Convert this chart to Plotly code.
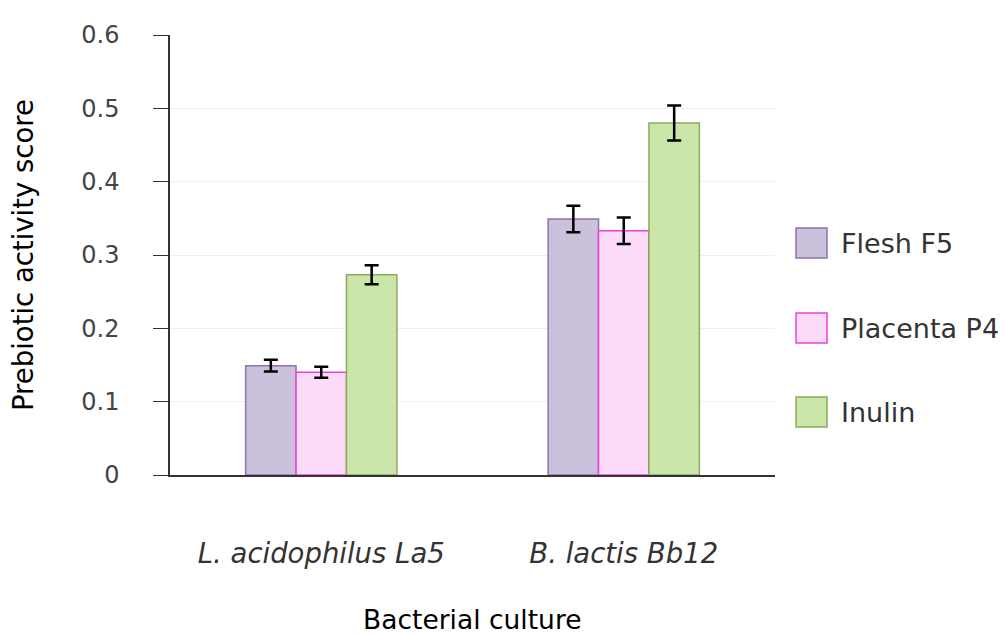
import plotly.graph_objects as go

categories = ["L. acidophilus La5", "B. lactis Bb12"]
series_names = ["Flesh F5", "Placenta P4", "Inulin"]
flesh = [0.149, 0.349]
placenta = [0.140, 0.333]
inulin = [0.273, 0.480]
flesh_err = [0.008, 0.018]
placenta_err = [0.0075, 0.018]
inulin_err = [0.013, 0.024]
y_ticks = [0, 0.1, 0.2, 0.3, 0.4, 0.5, 0.6]

fills = ["#cbc1dc", "#fcdcf8", "#cbe6aa"]
borders = ["#8f72ae", "#f23fdc", "#8bab5b"]
FONT = "DejaVu Sans"

fig = go.Figure()
for name, vals, errs, fc, bc in zip(series_names, [flesh, placenta, inulin],
                                     [flesh_err, placenta_err, inulin_err], fills, borders):
    fig.add_trace(go.Bar(
        x=categories, y=vals, name=name,
        marker=dict(color=fc, line=dict(color=bc, width=1.5)),
        error_y=dict(type="data", array=errs, color="black", thickness=2.5, width=7),
        showlegend=False,
    ))

# custom legend (large squares)
legend_y = [243, 328, 412]
for name, fc, bc, yy in zip(series_names, fills, borders, legend_y):
    fig.add_shape(type="rect", xref="paper", yref="paper",
                  x0=(796 - 170) / 605, x1=(827 - 170) / 605,
                  y0=(475 - (yy + 15)) / 440, y1=(475 - (yy - 15)) / 440,
                  fillcolor=fc, line=dict(color=bc, width=1.5))
    fig.add_annotation(text=name, xref="paper", yref="paper",
                       x=(839 - 170) / 605, y=(475 - yy) / 440,
                       xanchor="left", yanchor="middle", showarrow=False,
                       font=dict(size=27, color="#333333", family=FONT))

fig.add_annotation(text="Prebiotic activity score", xref="paper", yref="paper",
                   x=(23 - 170) / 605, y=0.5, textangle=-90, showarrow=False,
                   xanchor="center", yanchor="middle",
                   font=dict(size=27.5, color="black", family=FONT))
fig.add_annotation(text="Bacterial culture", xref="paper", yref="paper",
                   x=0.5, y=(475 - 619) / 440, showarrow=False,
                   xanchor="center", yanchor="middle",
                   font=dict(size=26.5, color="black", family=FONT))

fig.update_layout(
    width=1007, height=635,
    margin=dict(l=170, r=232, t=35, b=160),
    barmode="group", bargap=0.5, bargroupgap=0,
    plot_bgcolor="white", paper_bgcolor="white",
    font=dict(family=FONT, color="#333333"),
)
fig.update_yaxes(range=[0, 0.6], tickvals=y_ticks, ticktext=[f"{v:g}" for v in y_ticks],
                 showgrid=True, gridcolor="#efefef", gridwidth=1,
                 showline=True, linecolor="#333333", linewidth=1.5,
                 ticks="outside", ticklen=15, tickcolor="#333333",
                 tickfont=dict(size=24, color="#444444", family=FONT), ticklabelstandoff=29,
                 zeroline=False)
fig.update_xaxes(showline=True, linecolor="#333333", linewidth=1.5,
                 ticks="", tickfont=dict(size=27.5, color="#333333", style="italic", family=FONT),
                 ticklabelstandoff=53)

fig.write_html("out.html")
